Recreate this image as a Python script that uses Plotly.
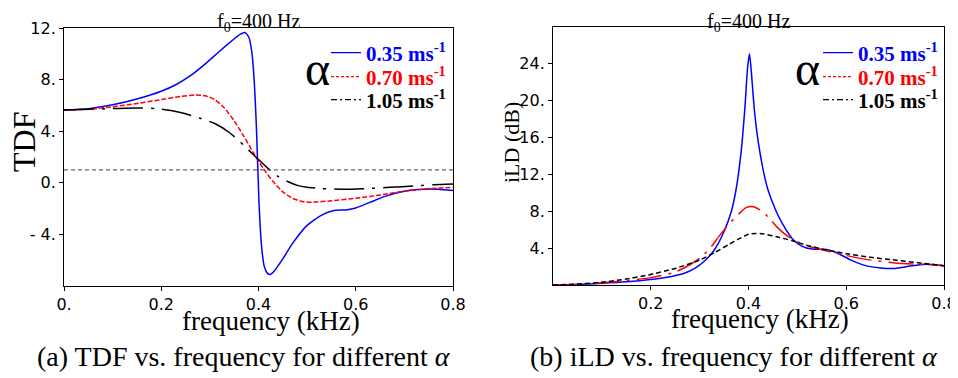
import plotly.graph_objects as go

# ---------------- data ----------------
tdf_f_035 = [0.0, 0.05, 0.1, 0.15, 0.2, 0.23, 0.26, 0.29, 0.32, 0.345, 0.362, 0.372, 0.38, 0.386, 0.391, 0.396,
             0.401, 0.406, 0.412, 0.418, 0.424, 0.432, 0.45, 0.47, 0.5, 0.53, 0.555, 0.58, 0.6, 0.63,
             0.66, 0.7, 0.74, 0.77, 0.8]
tdf_v_035 = [5.65, 5.75, 6.05, 6.5, 7.1, 7.6, 8.3, 9.2, 10.2, 11.0, 11.5, 11.65, 11.3, 10.2, 8.0, 4.0,
             -1.5, -4.8, -6.5, -7.0, -7.1, -6.85, -5.9, -4.7, -3.3, -2.5, -2.15, -2.1, -1.95, -1.5,
             -1.05, -0.65, -0.5, -0.5, -0.6]

tdf_f_070 = [0.0, 0.05, 0.1, 0.15, 0.2, 0.24, 0.27, 0.29, 0.31, 0.33, 0.35, 0.37, 0.39, 0.41, 0.43,
             0.45, 0.47, 0.49, 0.51, 0.55, 0.6, 0.65, 0.7, 0.75, 0.8]
tdf_v_070 = [5.65, 5.7, 5.9, 6.15, 6.45, 6.7, 6.8, 6.75, 6.45, 5.8, 4.8, 3.6, 2.3, 1.1, 0.1,
             -0.7, -1.2, -1.45, -1.5, -1.4, -1.2, -0.95, -0.65, -0.45, -0.35]

tdf_f_105 = [0.0, 0.05, 0.1, 0.15, 0.19, 0.22, 0.25, 0.28, 0.31, 0.34, 0.37, 0.4, 0.42, 0.44, 0.46,
             0.48, 0.5, 0.53, 0.57, 0.62, 0.67, 0.72, 0.76, 0.8]
tdf_v_105 = [5.65, 5.7, 5.75, 5.8, 5.75, 5.6, 5.35, 5.0, 4.6, 3.9, 2.9, 1.8, 1.1, 0.5, 0.1,
             -0.2, -0.35, -0.45, -0.5, -0.45, -0.35, -0.25, -0.15, -0.1]

tdf_ref_level = 1.0

ild_f_035 = [0.0, 0.05, 0.1, 0.15, 0.2, 0.24, 0.27, 0.29, 0.31, 0.33, 0.35, 0.365, 0.375, 0.385,
             0.393, 0.398, 0.402, 0.406, 0.412, 0.42, 0.43, 0.44, 0.455, 0.47, 0.49, 0.51, 0.53,
             0.56, 0.58, 0.61, 0.64, 0.67, 0.7, 0.73, 0.76, 0.8]
ild_v_035 = [0.0, 0.05, 0.18, 0.35, 0.6, 0.9, 1.3, 1.8, 2.6, 3.8, 5.8, 8.0, 10.5, 14.5,
             19.5, 23.5, 25.1, 23.0, 19.0, 15.5, 12.5, 10.3, 8.2, 6.6, 5.0, 4.2, 3.9,
             3.85, 3.5, 2.7, 2.1, 1.85, 1.8, 2.05, 2.25, 2.1]

ild_f_070 = [0.0, 0.05, 0.1, 0.15, 0.2, 0.25, 0.28, 0.3, 0.32, 0.34, 0.36, 0.38, 0.395, 0.41, 0.425,
             0.44, 0.46, 0.48, 0.5, 0.53, 0.56, 0.6, 0.65, 0.7, 0.75, 0.8]
ild_v_070 = [0.0, 0.08, 0.25, 0.45, 0.8, 1.4, 2.2, 2.9, 3.9, 5.3, 6.6, 7.7, 8.4, 8.5, 8.1,
             7.4, 6.2, 5.3, 4.7, 4.1, 3.7, 3.2, 2.7, 2.4, 2.25, 2.1]

ild_f_105 = [0.0, 0.05, 0.1, 0.15, 0.2, 0.25, 0.3, 0.33, 0.36, 0.38, 0.4, 0.415, 0.43, 0.46, 0.49,
             0.52, 0.56, 0.6, 0.65, 0.7, 0.75, 0.8]
ild_v_105 = [0.0, 0.1, 0.3, 0.65, 1.15, 1.8, 2.7, 3.5, 4.4, 5.0, 5.5, 5.6, 5.55, 5.2, 4.8,
             4.3, 3.8, 3.4, 3.0, 2.7, 2.4, 2.1]

series_names = ["0.35", "0.70", "1.05"]
series_colors = ["#0000ff", "#ff0000", "#000000"]

tdf_tickvals = [-4, 0, 4, 8, 12]
tdf_ticktext = ["- 4.", "0.", "4.", "8.", "12."]
ild_tickvals = [4, 8, 12, 16, 20, 24]
ild_ticktext = ["4.", "8.", "12.", "16.", "20.", "24."]
freq_tickvals_a = [0, 0.2, 0.4, 0.6, 0.8]
freq_ticktext_a = ["0.", "0.2", "0.4", "0.6", "0.8"]
freq_tickvals_b = [0.2, 0.4, 0.6, 0.8]
freq_ticktext_b = ["0.2", "0.4", "0.6", "0.8"]

# ---------------- figure ----------------
SERIF = "Liberation Serif, Times New Roman, DejaVu Serif, serif"
SANS = "DejaVu Sans, sans-serif"
PAGE_W, PAGE_H = 958, 378
OFF = 8  # default page body margin
W, H = PAGE_W - OFF, PAGE_H - OFF


def px(x):
    return (x - OFF) / W


def py(y):
    return 1 - (y - OFF) / H


fig = go.Figure()

tdf_data = [(tdf_f_035, tdf_v_035), (tdf_f_070, tdf_v_070), (tdf_f_105, tdf_v_105)]
tdf_dash = ["solid", "5px,2px", "30px,8px,3px,8px"]
for (fx, fy), c, d in zip(tdf_data, series_colors, tdf_dash):
    fig.add_trace(go.Scatter(x=fx, y=fy, mode="lines",
                             line=dict(color=c, width=1.5, dash=d, shape="spline", smoothing=0.6),
                             xaxis="x", yaxis="y", showlegend=False, hoverinfo="skip"))

fig.add_trace(go.Scatter(x=[0, 0.8], y=[tdf_ref_level, tdf_ref_level], mode="lines",
                         line=dict(color="#666666", width=1.3, dash="4px,3px"),
                         xaxis="x", yaxis="y", showlegend=False, hoverinfo="skip"))

ild_data = [(ild_f_035, ild_v_035), (ild_f_070, ild_v_070), (ild_f_105, ild_v_105)]
ild_dash = ["solid", "25px,7px,3px,7px", "5px,3px"]
for (fx, fy), c, d in zip(ild_data, series_colors, ild_dash):
    fig.add_trace(go.Scatter(x=fx, y=fy, mode="lines",
                             line=dict(color=c, width=1.5, dash=d, shape="spline", smoothing=0.6),
                             xaxis="x2", yaxis="y2", showlegend=False, hoverinfo="skip"))

# one legend per entry so rows can be spaced like the reference
legend_dash = ["solid", "3px,2px", "6px,3px,2px,3px"]
row_y = [53, 77, 100]
legend_layout = {}
k = 1
for panel, lx in [("a", 326), ("b", 818)]:
    for n, c, d, ry in zip(series_names, series_colors, legend_dash, row_y):
        lname = "legend" if k == 1 else f"legend{k}"
        fig.add_trace(go.Scatter(x=[None], y=[None], mode="lines", line=dict(color=c, width=1.3, dash=d),
                                 name=f"<b><span style='color:{c}'>{n} ms<sup>-1</sup></span></b>",
                                 legend=lname, xaxis="x" if panel == "a" else "x2",
                                 yaxis="y" if panel == "a" else "y2"))
        legend_layout[lname] = dict(x=px(lx), y=py(ry), xanchor="left", yanchor="middle",
                                    bgcolor="rgba(0,0,0,0)", borderwidth=0,
                                    font=dict(family=SERIF, size=21), itemwidth=30)
        k += 1

axis_common = dict(showline=True, linecolor="black", linewidth=1, mirror=True, showgrid=False,
                   zeroline=False, ticks="outside", ticklen=4, tickcolor="black", automargin=False,
                   tickfont=dict(family=SANS, size=16, color="black"))

fig.update_layout(
    width=W, height=H,
    margin=dict(l=0, r=0, t=0, b=0, autoexpand=False),
    paper_bgcolor="white", plot_bgcolor="white",
    xaxis=dict(domain=[px(64), px(453)], range=[0, 0.8], tickvals=freq_tickvals_a, ticktext=freq_ticktext_a,
               anchor="y", **axis_common),
    yaxis=dict(domain=[py(286), py(28)], range=[-8, 12], tickvals=tdf_tickvals, ticktext=tdf_ticktext,
               anchor="x", **axis_common),
    xaxis2=dict(domain=[px(553), px(944)], range=[0, 0.8], tickvals=freq_tickvals_b, ticktext=freq_ticktext_b,
                anchor="y2", **axis_common),
    yaxis2=dict(domain=[py(285), py(27)], range=[0, 28], tickvals=ild_tickvals, ticktext=ild_ticktext,
                anchor="x2", **axis_common),
    showlegend=True,
    **legend_layout,
)

# panel titles, anchored to the top edge so they are not cut off
for tx in [258, 748]:
    fig.add_annotation(text="f<sub>0</sub>=400 Hz", x=px(tx), y=1.0, xref="paper", yref="paper",
                       xanchor="center", yanchor="top", showarrow=False,
                       font=dict(family=SERIF, size=20, color="black"))

annots = [
    dict(text="frequency (kHz)", x=271, y=321, size=27),
    dict(text="frequency (kHz)", x=760, y=319, size=27),
    dict(text="(a) TDF vs. frequency for different <i>α</i>", x=244, y=356, size=28),
    dict(text="(b) iLD vs. frequency for different <i>α</i>", x=734, y=356, size=28),
    dict(text="α", x=317, y=69, size=48),
    dict(text="α", x=807, y=69, size=48),
]
for a in annots:
    fig.add_annotation(text=a["text"], x=px(a["x"]), y=py(a["y"]), xref="paper", yref="paper",
                       xanchor="center", yanchor="middle", showarrow=False,
                       font=dict(family=SERIF, size=a["size"], color="black"))

fig.add_annotation(text="TDF", x=px(24), y=py(142), xref="paper", yref="paper", textangle=-90,
                   xanchor="center", yanchor="middle", showarrow=False,
                   font=dict(family=SERIF, size=32, color="black"))
fig.add_annotation(text="iLD (dB)", x=px(511), y=py(143), xref="paper", yref="paper", textangle=-90,
                   xanchor="center", yanchor="middle", showarrow=False,
                   font=dict(family=SERIF, size=22, color="black"))

fig.write_html("out.html")
